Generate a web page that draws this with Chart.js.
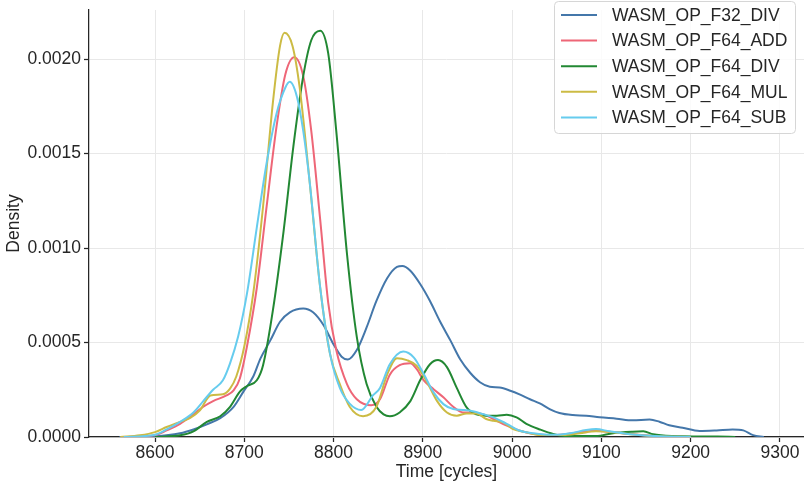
<!DOCTYPE html>
<html>
<head>
<meta charset="utf-8">
<title>Density</title>
<script src="https://cdn.jsdelivr.net/npm/chart.js@4.4.1/dist/chart.umd.min.js"></script>
<style>
    html, body { margin: 0; padding: 0; background: #fff; }
    #wrap { width: 804px; height: 485px; }
</style>
</head>
<body>
<div id="wrap"><canvas id="kde" width="804" height="485"></canvas></div>
<script>
// series labels + colours
const seriesNames = ['WASM_OP_F32_DIV', 'WASM_OP_F64_ADD', 'WASM_OP_F64_DIV', 'WASM_OP_F64_MUL', 'WASM_OP_F64_SUB'];
const seriesColors = ['#4477aa', '#ee6677', '#228833', '#ccbb44', '#66ccee'];

// x ticks
const xTicks = [8600, 8700, 8800, 8900, 9000, 9100, 9200, 9300];

// values (cycles / density)
const f32DivX = [8560, 8600, 8628, 8643, 8658, 8673, 8688, 8699, 8710, 8718, 8729, 8740, 8751, 8766, 8777, 8789, 8800, 8809, 8816, 8826, 8837, 8848, 8860, 8871, 8877, 8886, 8897, 8908, 8919, 8931, 8942, 8953, 8964, 8975, 8986, 8998, 9009, 9020, 9031, 9042, 9053, 9068, 9083, 9098, 9117, 9135, 9154, 9165, 9176, 9191, 9210, 9229, 9247, 9259, 9270, 9282];
const f32DivY = [0, 0.000004, 0.00002, 0.00004, 0.000067, 0.0001, 0.00016, 0.00024, 0.00032, 0.000415, 0.00051, 0.00061, 0.00066, 0.00068, 0.00066, 0.00059, 0.00049, 0.000425, 0.00041, 0.00046, 0.00058, 0.00072, 0.00084, 0.0009, 0.000905, 0.00088, 0.00081, 0.00072, 0.000614, 0.00051, 0.00041, 0.00034, 0.00029, 0.000266, 0.000262, 0.000245, 0.000224, 0.0002, 0.000178, 0.000148, 0.000127, 0.000116, 0.000113, 0.000104, 0.000097, 0.000088, 0.000093, 0.000081, 0.000062, 0.000049, 0.000032, 0.000035, 0.00004, 0.000035, 0.00001, 0];

const f64AddX = [8565, 8600, 8613, 8628, 8643, 8654, 8665, 8680, 8688, 8695, 8703, 8714, 8725, 8736, 8746, 8756, 8766, 8775, 8785, 8794, 8803, 8815, 8826, 8842, 8852, 8863, 8874, 8886, 8893, 8901, 8912, 8923, 8934, 8945, 8956, 8968, 8979, 8994, 9009, 9024, 9045, 9076, 9094, 9109, 9132, 9160, 9200];
const f64AddY = [0, 0.00001, 0.000035, 0.00007, 0.00012, 0.00016, 0.00019, 0.00022, 0.000247, 0.00031, 0.00048, 0.00079, 0.00122, 0.00164, 0.00192, 0.00201, 0.00191, 0.00162, 0.00115, 0.00071, 0.00046, 0.00028, 0.0002, 0.000168, 0.0002, 0.00033, 0.00038, 0.00039, 0.00036, 0.0003, 0.000253, 0.00021, 0.00016, 0.00013, 0.00013, 0.00012, 0.000095, 0.00006, 0.000033, 0.000016, 0.00001, 0.000025, 0.000033, 0.000028, 0.000016, 0.000005, 0];

const f64DivX = [8600, 8628, 8643, 8658, 8673, 8684, 8695, 8703, 8714, 8721, 8732, 8744, 8755, 8766, 8775, 8785, 8794, 8803, 8815, 8826, 8837, 8848, 8856, 8863, 8874, 8886, 8897, 8908, 8917, 8927, 8938, 8949, 8960, 8971, 8983, 8994, 9005, 9016, 9031, 9046, 9061, 9094, 9113, 9135, 9147, 9158, 9180, 9230, 9250];
const f64DivY = [0, 0.000009, 0.00003, 0.00008, 0.00011, 0.00016, 0.00024, 0.00027, 0.0003, 0.00038, 0.00067, 0.00109, 0.00154, 0.00191, 0.0021, 0.00215, 0.00203, 0.00162, 0.00097, 0.00053, 0.00028, 0.00016, 0.00012, 0.00011, 0.00013, 0.00019, 0.0003, 0.000385, 0.000407, 0.00037, 0.00026, 0.000157, 0.00012, 0.000113, 0.000113, 0.000118, 0.000104, 0.00007, 0.00004, 0.000016, 0.000005, 0.000005, 0.00002, 0.000028, 0.00003, 0.000014, 0.000005, 0.000002, 0];

const f64MulX = [8561, 8583, 8600, 8613, 8628, 8639, 8650, 8662, 8676, 8684, 8691, 8700, 8710, 8721, 8732, 8740, 8745, 8754, 8762, 8773, 8785, 8796, 8807, 8818, 8833, 8848, 8860, 8871, 8882, 8893, 8904, 8916, 8927, 8938, 8949, 8960, 8971, 8979, 8990, 9001, 9016, 9031, 9057, 9076, 9094, 9113, 9132, 9160, 9200];
const f64MulY = [0, 0.000009, 0.000026, 0.000053, 0.00008, 0.0001, 0.00014, 0.00022, 0.000226, 0.000256, 0.00032, 0.00048, 0.00076, 0.00122, 0.00177, 0.00207, 0.00214, 0.00207, 0.00185, 0.00136, 0.00079, 0.00044, 0.00028, 0.00016, 0.00011, 0.00016, 0.00033, 0.000417, 0.000407, 0.000377, 0.000297, 0.00019, 0.00013, 0.000113, 0.000125, 0.000125, 0.000095, 0.000086, 0.000077, 0.000042, 0.000025, 0.00001, 0.00001, 0.00002, 0.00003, 0.000025, 0.000015, 0.000005, 0];

const f64SubX = [8565, 8600, 8613, 8628, 8643, 8654, 8665, 8676, 8684, 8693, 8703, 8714, 8725, 8736, 8746, 8751, 8759, 8766, 8773, 8785, 8796, 8807, 8818, 8831, 8844, 8852, 8863, 8878, 8890, 8901, 8912, 8923, 8934, 8945, 8956, 8968, 8979, 8994, 9009, 9024, 9046, 9065, 9083, 9094, 9109, 9132, 9160, 9200];
const f64SubY = [0, 0.000012, 0.00004, 0.00008, 0.00013, 0.00019, 0.00025, 0.0003, 0.00039, 0.00053, 0.00076, 0.00111, 0.00145, 0.00171, 0.00185, 0.00188, 0.0018, 0.00162, 0.00136, 0.00079, 0.00044, 0.00026, 0.000177, 0.000143, 0.00022, 0.00026, 0.000385, 0.000452, 0.00042, 0.000333, 0.000236, 0.000174, 0.000148, 0.000143, 0.000136, 0.00012, 0.000104, 0.00007, 0.000033, 0.00002, 0.000012, 0.00002, 0.000037, 0.000042, 0.00003, 0.000015, 0.000005, 0];

const seriesX = [f32DivX, f64AddX, f64DivX, f64MulX, f64SubX];
const seriesY = [f32DivY, f64AddY, f64DivY, f64MulY, f64SubY];

const FONT = "'Liberation Sans', Arial, sans-serif";
const INK = '#262626';

// legend box in the top right corner, drawn like matplotlib's
const cornerLegend = {
    id: 'cornerLegend',
    afterDraw(chart) {
        const ctx = chart.ctx;
        const x0 = 554.5, y0 = 1.5, w = 241, h = 132;
        ctx.save();
        ctx.beginPath();
        ctx.roundRect(x0, y0, w, h, 4);
        ctx.fillStyle = 'rgba(255,255,255,0.8)';
        ctx.fill();
        ctx.strokeStyle = '#d6d6d6';
        ctx.lineWidth = 1;
        ctx.stroke();
        ctx.font = '17.5px ' + FONT;
        ctx.textBaseline = 'middle';
        ctx.textAlign = 'left';
        chart.data.datasets.forEach((ds, i) => {
            const y = 15 + i * 25.6;
            ctx.strokeStyle = ds.borderColor;
            ctx.lineWidth = 2;
            ctx.beginPath();
            ctx.moveTo(561, y);
            ctx.lineTo(597, y);
            ctx.stroke();
            ctx.fillStyle = INK;
            ctx.fillText(ds.label, 612, y + 1);
        });
        ctx.restore();
    }
};

const datasets = seriesNames.map((name, i) => ({
    label: name,
    data: seriesX[i].map((x, j) => ({ x: x, y: seriesY[i][j] })),
    borderColor: seriesColors[i],
    borderWidth: 2,
    pointRadius: 0,
    fill: false,
    cubicInterpolationMode: 'monotone',
    order: seriesNames.length - i
}));

new Chart(document.getElementById('kde'), {
    type: 'line',
    data: { datasets: datasets },
    options: {
        responsive: false,
        animation: false,
        layout: { padding: { top: 10, right: 0, left: 0, bottom: 0 } },
        plugins: {
            legend: { display: false },
            tooltip: { enabled: false }
        },
        scales: {
            x: {
                type: 'linear',
                min: 8526,
                max: 9327,
                afterFit: scale => {
                    scale.height = 48;
                    scale.paddingLeft = 0;
                    scale.paddingRight = 0;
                },
                afterBuildTicks: scale => { scale.ticks = xTicks.map(v => ({ value: v })); },
                ticks: {
                    includeBounds: false,
                    color: INK,
                    padding: 1,
                    maxRotation: 0,
                    font: { family: FONT, size: 17.5 },
                    callback: v => String(v)
                },
                grid: { color: '#e8e8e8', lineWidth: 1, tickColor: INK, tickLength: 5, tickWidth: 1.25 },
                border: { color: INK, width: 1.25 },
                title: {
                    display: true,
                    text: 'Time [cycles]',
                    color: INK,
                    font: { family: FONT, size: 17.5 },
                    padding: { top: 0, bottom: 2 }
                }
            },
            y: {
                min: 0,
                max: 0.00226,
                afterFit: scale => {
                    scale.width = 89;
                    scale.paddingTop = 0;
                    scale.paddingBottom = 0;
                },
                ticks: {
                    stepSize: 0.0005,
                    includeBounds: false,
                    color: INK,
                    padding: 3,
                    font: { family: FONT, size: 17.5 },
                    callback: v => v.toFixed(4)
                },
                grid: { color: '#e8e8e8', lineWidth: 1, tickColor: INK, tickLength: 5, tickWidth: 1.25 },
                border: { color: INK, width: 1.25 },
                title: {
                    display: true,
                    text: 'Density',
                    color: INK,
                    font: { family: FONT, size: 17.5 },
                    padding: { top: 4, bottom: 0 }
                }
            }
        }
    },
    plugins: [cornerLegend]
});
</script>
</body>
</html>
